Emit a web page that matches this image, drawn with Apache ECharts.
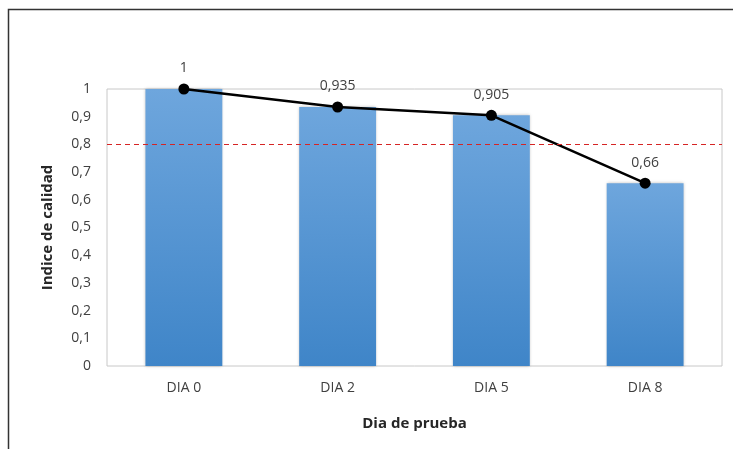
<!DOCTYPE html>
<html>
<head>
<meta charset="utf-8">
<script src="https://cdn.jsdelivr.net/npm/echarts@6/dist/echarts.min.js"></script>
<style>
  html, body { margin: 0; padding: 0; background: #fff; }
  #chart { width: 733px; height: 449px; }
</style>
</head>
<body>
<div id="chart"></div>
<script>
// 数据
const categories = ['DIA 0', 'DIA 2', 'DIA 5', 'DIA 8'];
const barValues = [1, 0.935, 0.905, 0.66];
const lineValues = [1, 0.935, 0.905, 0.66];
const limitValue = 0.8;

const comma = v => String(Math.round(v * 1000) / 1000).replace('.', ',');
const font = 'Open Sans';

const chart = echarts.init(document.getElementById('chart'));
const option = {
  backgroundColor: '#fff',
  animation: false,
  textStyle: { fontFamily: font },
  graphic: [{
    // 外框
    type: 'rect',
    shape: { x: 8.5, y: 9.5, width: 800, height: 500 },
    style: { fill: 'none', stroke: '#333', lineWidth: 1.5 },
    z: 0
  }],
  grid: {
    left: 107, right: 11, top: 89, bottom: 83,
    show: true, borderColor: '#c8c8c8', borderWidth: 1, backgroundColor: 'transparent'
  },
  xAxis: {
    type: 'category',
    data: categories,
    name: 'Dia de prueba',
    nameLocation: 'middle',
    nameGap: 50,
    nameTextStyle: { fontFamily: font, fontWeight: 'bold', fontSize: 15, color: '#262626' },
    axisLine: { show: false },
    axisTick: { show: false },
    axisLabel: { fontFamily: font, fontSize: 14, color: '#404040', margin: 15 }
  },
  yAxis: {
    type: 'value',
    min: 0, max: 1, interval: 0.1,
    name: 'Indice de calidad',
    nameLocation: 'middle',
    nameGap: 52,
    nameTextStyle: { fontFamily: font, fontWeight: 'bold', fontSize: 15, color: '#262626' },
    axisLine: { show: false },
    axisTick: { show: false },
    splitLine: { show: false },
    axisLabel: { fontFamily: font, fontSize: 14, color: '#404040', margin: 16, formatter: comma }
  },
  series: [{
    type: 'bar',
    data: barValues,
    barWidth: '50%',
    itemStyle: {
      color: new echarts.graphic.LinearGradient(0, 0, 0, 1, [
        { offset: 0, color: '#6ea6dd' },
        { offset: 1, color: '#3f85c8' }
      ]),
      shadowColor: 'rgba(0,0,0,0.25)', shadowBlur: 3
    },
    markLine: {
      silent: true,
      symbol: 'none',
      label: { show: false },
      lineStyle: { color: '#d62424', type: [5, 4], width: 1.2 },
      data: [{ yAxis: limitValue }]
    },
    z: 2
  }, {
    type: 'line',
    data: lineValues,
    symbol: 'circle',
    symbolSize: 11,
    itemStyle: { color: '#000' },
    lineStyle: { color: '#000', width: 2.5 },
    label: {
      show: true, position: 'top', distance: 8,
      fontFamily: font, fontSize: 14, color: '#404040',
      formatter: p => comma(p.value)
    },
    z: 3
  }]
};
chart.setOption(option);
</script>
</body>
</html>
